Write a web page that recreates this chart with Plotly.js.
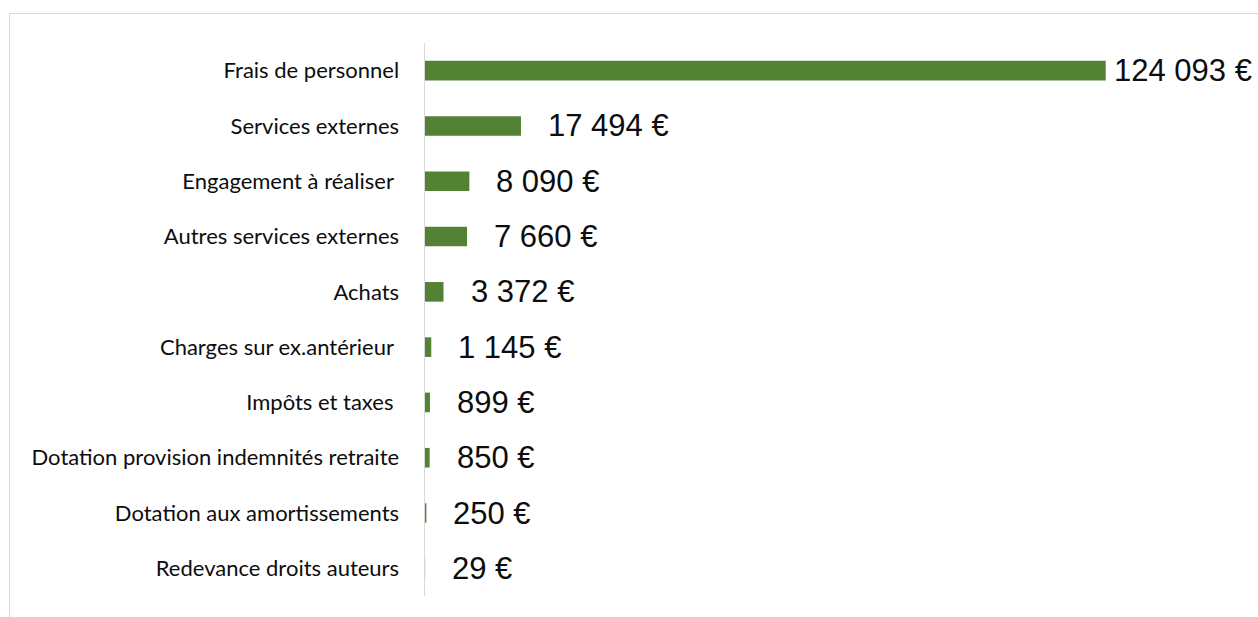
<!DOCTYPE html>
<html>
<head>
<meta charset="utf-8">
<script src="https://cdn.plot.ly/plotly-3.0.1.min.js"></script>
<style>
  html, body { margin: 0; padding: 0; background: #ffffff; }
  #wrap { position: relative; width: 1258px; height: 617px; overflow: hidden; }
  #frame { position: absolute; left: 9px; top: 13px; width: 1300px; height: 700px;
           border-left: 1.5px solid #d9d9d9; border-top: 1.5px solid #d9d9d9; pointer-events: none; }
  #chart { position: absolute; left: 0; top: 0; width: 1258px; height: 617px; }
</style>
</head>
<body>
<div id="wrap">
  <div id="frame"></div>
  <div id="chart"></div>
</div>
<script>
// Data
const categories = [
  "Frais de personnel",
  "Services externes",
  "Engagement à réaliser ",
  "Autres services externes",
  "Achats",
  "Charges sur ex.antérieur ",
  "Impôts et taxes ",
  "Dotation provision indemnités retraite",
  "Dotation aux amortissements",
  "Redevance droits auteurs"
];
const values = [124093, 17494, 8090, 7660, 3372, 1145, 899, 850, 250, 29];

function fmtEuro(v) {
  const s = String(Math.round(v)).replace(/\B(?=(\d{3})+(?!\d))/g, "\u00a0");
  return s + "\u00a0€";
}

const maxVal = Math.max(...values);

const trace = {
  type: "bar",
  orientation: "h",
  x: values,
  y: categories,
  marker: { color: "#548235" },
  hoverinfo: "skip"
};

const annotations = values.map((v, i) => ({
  x: v,
  y: categories[i],
  xref: "x",
  yref: "y",
  text: fmtEuro(v),
  showarrow: false,
  xanchor: "left",
  yanchor: "middle",
  xshift: v === maxVal ? 6 : 25,
  font: { family: "Liberation Sans, Arial, sans-serif", size: 31, color: "#0d0d0d" }
}));

const layout = {
  width: 1258,
  height: 617,
  margin: { l: 425, r: 65, t: 43, b: 21, pad: 0 },
  paper_bgcolor: "rgba(0,0,0,0)",
  plot_bgcolor: "rgba(0,0,0,0)",
  showlegend: false,
  bargap: 0.645,
  xaxis: {
    range: [0, 140000],
    showgrid: false,
    zeroline: false,
    showline: false,
    showticklabels: false,
    ticks: ""
  },
  yaxis: {
    type: "category",
    autorange: "reversed",
    showgrid: false,
    zeroline: false,
    showline: true,
    linecolor: "#d9d9d9",
    linewidth: 1.5,
    ticks: "",
    ticklabelstandoff: 20,
    tickfont: { family: "Lato, 'Open Sans', sans-serif", size: 22, color: "#0d0d0d" }
  },
  annotations: annotations
};

Plotly.newPlot("chart", [trace], layout, { displayModeBar: false, staticPlot: true });
</script>
</body>
</html>
